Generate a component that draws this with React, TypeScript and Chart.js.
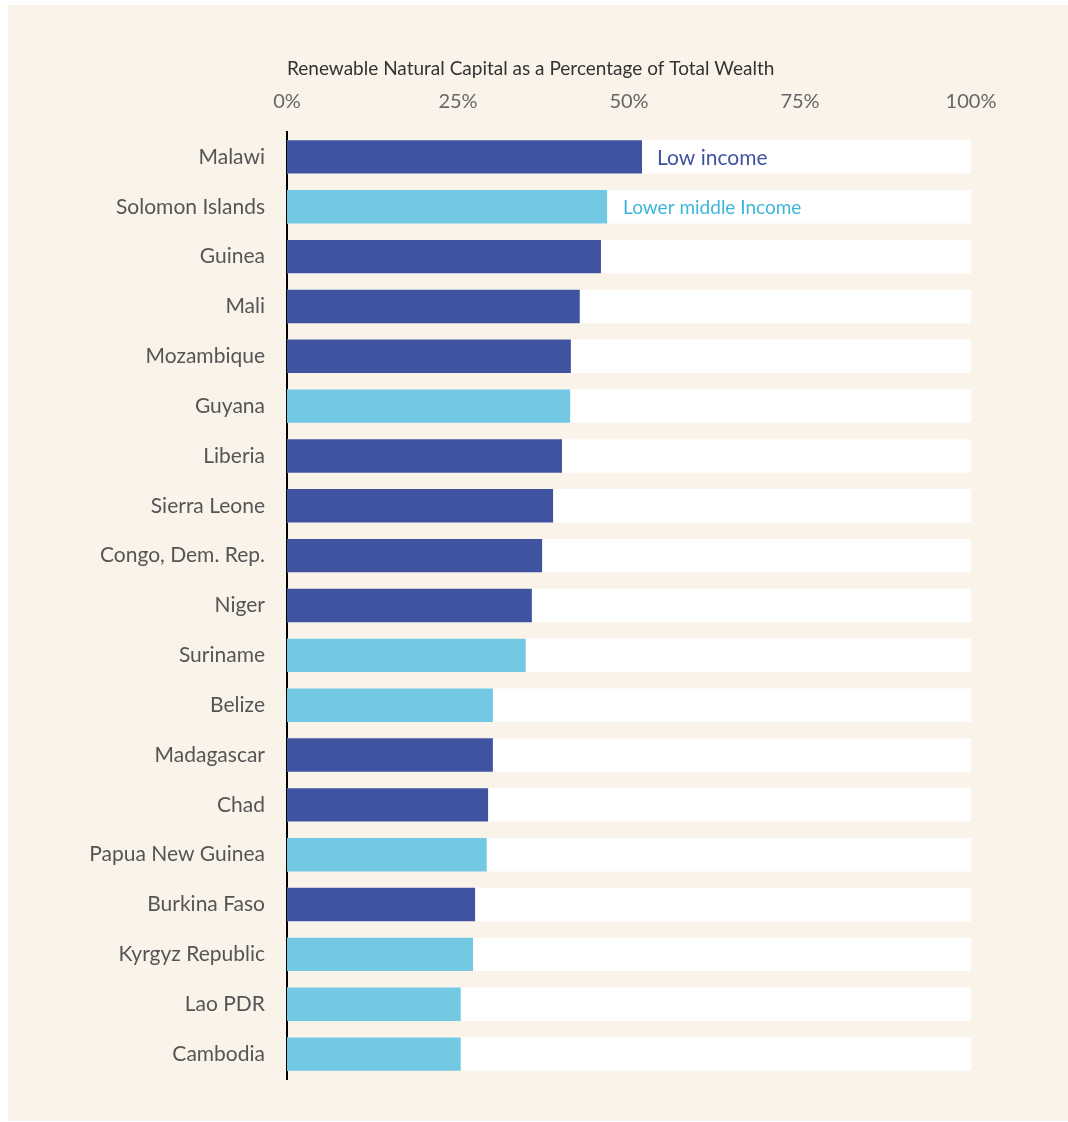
import React, { useEffect, useRef } from "react";
import { Chart, registerables } from "chart.js";

Chart.register(...registerables);

const countries = [
  "Malawi", "Solomon Islands", "Guinea", "Mali", "Mozambique", "Guyana", "Liberia",
  "Sierra Leone", "Congo, Dem. Rep.", "Niger", "Suriname", "Belize", "Madagascar",
  "Chad", "Papua New Guinea", "Burkina Faso", "Kyrgyz Republic", "Lao PDR", "Cambodia",
];
const values = [51.9, 46.8, 45.9, 42.8, 41.5, 41.4, 40.2, 38.9, 37.3, 35.8, 34.9, 30.1, 30.1, 29.4, 29.2, 27.5, 27.2, 25.4, 25.4];
const incomeGroups = ["low", "lower", "low", "low", "low", "lower", "low", "low", "low", "low", "lower", "lower", "low", "low", "lower", "low", "lower", "lower", "lower"];
const fullScale = countries.map(() => 100);
const xTicks = [0, 25, 50, 75, 100];
const groupLabels = { low: "Low income", lower: "Lower middle Income" };

const DARK = "#4053A1";
const LIGHT = "#73C9E3";
const CREAM = "#FAF3EA";
const FONT = "Lato, 'Noto Sans', sans-serif";

export default function App() {
  const ref = useRef<HTMLCanvasElement | null>(null);

  useEffect(() => {
    if (!ref.current) return;
    const labelPlugin = {
      id: "groupLabels",
      afterDatasetsDraw(chart: any) {
        const ctx = chart.ctx;
        const xs = chart.scales.x;
        const ys = chart.scales.y;
        const first = { low: -1, lower: -1 } as any;
        incomeGroups.forEach((g, i) => { if (first[g] < 0) first[g] = i; });
        ctx.save();
        ctx.textBaseline = "middle";
        ctx.textAlign = "left";
        (["low", "lower"] as const).forEach((g) => {
          const i = first[g];
          const x = xs.getPixelForValue(values[i]) + (g === "low" ? 15 : 16);
          const y = ys.getPixelForValue(i) + 1;
          ctx.fillStyle = g === "low" ? DARK : "#3DB5DB";
          ctx.font = `${g === "low" ? 21 : 19}px ${FONT}`;
          ctx.fillText(groupLabels[g], x, y);
        });
        ctx.restore();
      },
    };
    const chart = new Chart(ref.current, {
      type: "bar",
      data: {
        labels: countries,
        datasets: [
          {
            data: values,
            backgroundColor: incomeGroups.map((g) => (g === "low" ? DARK : LIGHT)),
            categoryPercentage: 1,
            barPercentage: 0.67,
            grouped: false,
          },
          {
            data: fullScale,
            backgroundColor: "#FFFFFF",
            categoryPercentage: 1,
            barPercentage: 0.67,
            grouped: false,
          },
        ],
      },
      options: {
        indexAxis: "y",
        animation: false,
        responsive: false,
        layout: { padding: { left: 0, right: 97, top: 0, bottom: 43 } },
        plugins: { legend: { display: false }, tooltip: { enabled: false } },
        scales: {
          x: {
            position: "top",
            min: 0,
            max: 100,
            afterBuildTicks(scale: any) {
              scale.ticks = xTicks.map((v) => ({ value: v }));
            },
            afterFit(scale: any) {
              scale.height = 132;
            },
            grid: { display: false, drawTicks: false },
            border: { display: false },
            ticks: {
              padding: 18,
              color: "#666",
              font: { family: FONT, size: 20 },
              callback: (v: any) => `${v}%`,
            },
            title: {
              display: true,
              text: "Renewable Natural Capital as a Percentage of Total Wealth",
              align: "start",
              color: "#333",
              font: { family: FONT, size: 19 },
              padding: { top: 57, bottom: 0 },
            },
          },
          y: {
            afterFit(scale: any) {
              scale.width = 287;
            },
            grid: { display: false, drawTicks: false },
            border: { display: true, color: "#000", width: 2 },
            ticks: {
              padding: 22,
              color: "#555",
              font: { family: FONT, size: 21 },
            },
          },
        },
      },
      plugins: [labelPlugin],
    } as any);
    return () => chart.destroy();
  }, []);

  return (
    <div style={{ position: "absolute", left: 0, top: 0, width: 1068, height: 1122 }}>
      <div style={{ position: "absolute", left: 8, top: 5, width: 1060, height: 1116, background: CREAM }} />
      <canvas ref={ref} width={1068} height={1122} style={{ position: "absolute", left: 0, top: 0, width: 1068, height: 1122 }} />
    </div>
  );
}
